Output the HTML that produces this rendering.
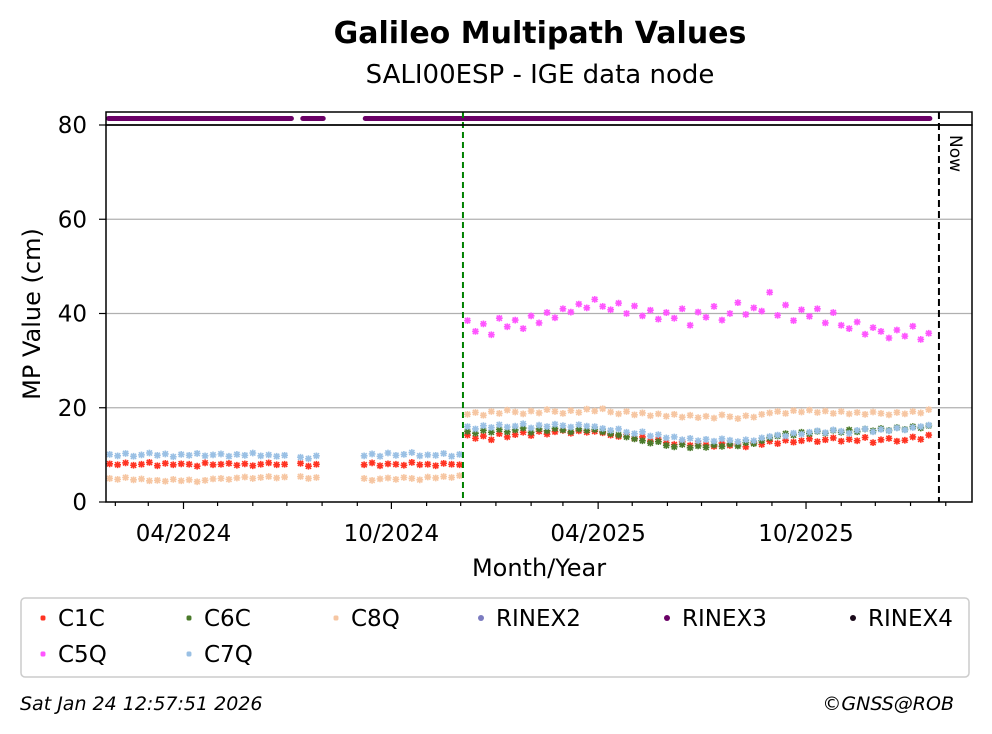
<!DOCTYPE html>
<html><head><meta charset="utf-8">
<style>
body{margin:0;background:#fff;}
svg{display:block;font-family:"DejaVu Sans","Liberation Sans",sans-serif;}
</style></head>
<body>
<svg id="chart" width="992" height="734" viewBox="0 0 992 734">
<text x="540" y="43" text-anchor="middle" font-size="30" font-weight="bold">Galileo Multipath Values</text>
<text x="540" y="83" text-anchor="middle" font-size="26">SALI00ESP - IGE data node</text>
<g id="grid"></g>
<g id="strip"></g>
<g id="marks"></g>
<rect x="106" y="112" width="866" height="13" fill="none" stroke="#000" stroke-width="1.5"/>
<rect x="106" y="125" width="866" height="377" fill="none" stroke="#000" stroke-width="1.5"/>
<g id="axes"></g>
<text transform="translate(40,314) rotate(-90)" text-anchor="middle" font-size="24">MP Value (cm)</text>
<text x="539" y="576" text-anchor="middle" font-size="24">Month/Year</text>
<rect x="21" y="598" width="948" height="79" rx="4" fill="#fff" stroke="#ccc" stroke-width="1.5"/>
<g id="legend"></g>
<text x="20" y="710" font-size="19" font-style="italic">Sat Jan 24 12:57:51 2026</text>
<text x="954" y="710" text-anchor="end" font-size="19" font-style="italic">©GNSS@ROB</text>
</svg>
<script>
// Data: weekly samples, day offset from 2024-04-01 = START + 7*i
const START = -65;
const C1C = [8.1,7.9,8.3,7.8,8.0,8.4,7.7,8.2,7.9,8.1,8.0,7.6,8.3,7.9,8.0,8.2,7.8,8.1,7.7,8.0,8.3,7.9,8.0,null,8.2,7.6,8.0,null,null,null,null,null,7.9,8.3,7.7,8.1,8.0,7.8,8.4,7.9,8.0,7.7,8.2,8.0,7.9,
14.2,13.5,14.0,13.2,14.5,13.8,14.3,14.8,14.1,15.0,14.4,14.9,15.2,14.6,15.1,14.8,
15.0,14.7,14.2,13.9,14.3,13.5,13.8,12.9,13.3,12.6,12.2,12.8,12.0,12.4,
12.1,11.8,12.5,12.0,12.3,11.7,12.6,12.2,12.9,12.4,13.1,12.7,13.0,
13.4,12.8,13.2,13.6,12.9,13.3,13.0,13.7,12.6,13.2,13.5,12.9,13.1,13.8,13.3,14.2];
const C7Q = [10.1,9.8,10.3,9.7,10.0,10.4,9.9,10.2,9.6,10.1,9.9,10.3,9.8,10.0,10.2,9.7,10.1,9.9,10.4,9.8,10.0,9.7,9.9,null,9.5,9.2,9.8,null,null,null,null,null,9.8,10.2,9.7,10.4,9.9,10.1,10.5,9.8,10.0,9.9,10.3,9.7,10.1,
16.0,15.5,16.2,15.8,16.4,15.9,16.1,16.6,15.7,16.3,16.0,16.5,16.2,15.9,16.4,16.1,
16.0,15.6,15.2,15.5,14.8,14.5,14.9,14.0,14.3,13.6,13.8,13.2,13.5,13.0,
13.3,12.9,13.4,13.1,12.8,13.2,13.0,13.6,13.9,14.2,14.0,14.6,14.4,
14.8,15.1,14.7,15.3,15.0,14.6,15.2,15.5,14.9,15.4,15.1,15.7,15.3,15.8,16.0,16.3];
const C8Q = [5.0,4.8,5.2,4.7,4.9,4.5,4.6,4.4,4.8,4.5,4.7,4.3,4.6,4.9,5.0,4.8,5.1,5.3,5.0,5.2,5.4,5.1,5.3,null,5.4,5.0,5.2,null,null,null,null,null,5.0,4.6,4.9,5.1,4.8,5.2,5.0,4.7,5.3,5.1,5.4,5.2,5.6,
18.6,19.0,18.4,19.2,18.8,19.5,19.1,18.7,19.3,18.9,19.6,19.2,18.8,19.4,19.0,19.7,
19.3,19.8,19.1,18.7,19.2,18.5,18.9,18.3,18.7,18.2,18.6,18.0,18.4,17.9,
18.2,17.8,18.5,18.1,17.7,18.3,18.0,18.6,18.9,19.2,18.8,19.4,19.1,
19.5,19.0,19.3,18.8,19.2,18.7,19.0,18.6,19.1,18.8,18.5,19.0,18.7,19.2,18.9,19.6];
const C6C = Array(45).fill(null).concat([15.0,14.6,15.2,14.8,15.4,14.9,15.3,15.7,14.8,15.5,15.1,15.6,15.3,14.9,15.5,15.2,
15.4,14.9,14.5,14.2,13.8,13.4,13.0,12.5,12.8,12.0,11.7,12.2,11.5,11.9,
11.6,12.1,11.8,12.3,11.9,12.6,12.4,13.0,13.6,14.0,14.5,14.2,14.8,
14.5,15.0,14.6,15.2,14.8,15.3,14.9,15.5,15.1,15.6,15.2,15.8,15.4,16.0,15.7,16.2]);
const C5Q = Array(45).fill(null).concat([38.5,36.2,37.8,35.5,39.0,37.2,38.6,36.8,39.5,38.0,40.2,39.1,41.0,40.3,42.0,41.2,
43.0,41.5,40.8,42.2,40.0,41.6,39.5,40.7,38.8,40.2,39.0,41.0,37.5,40.3,
39.2,41.5,38.6,40.0,42.3,39.8,41.2,40.5,44.5,39.6,41.8,38.5,40.8,
39.4,41.0,38.0,40.2,37.5,36.8,38.2,35.6,37.0,36.2,34.8,36.5,35.2,37.3,34.5,35.8]);
const RINEX3_RANGES = [[-66,95],[105,123],[160,657]];
const Y_TICKS = [0,20,40,60,80];
const X_TICK_LABELS = ["04/2024","10/2024","04/2025","10/2025"];
const X_TICK_DAYS = [0,183,365,548];
const CHANGE_DAY = 246;
const NOW_DAY = 665;

const NS="http://www.w3.org/2000/svg";
const x = d => 183.5 + d*1.136;
const y = v => 502 - v*(377/80);
function mk(tag, attrs, parent){const e=document.createElementNS(NS,tag);for(const k in attrs)e.setAttribute(k,attrs[k]);parent.appendChild(e);return e;}
const grid=document.getElementById('grid'), axes=document.getElementById('axes'), marks=document.getElementById('marks'), strip=document.getElementById('strip'), legend=document.getElementById('legend');

Y_TICKS.forEach(v=>{
  if(v>0&&v<80){const g=mk('line',{x1:106,x2:972,y1:y(v),y2:y(v),stroke:'#b0b0b0','stroke-width':1.2},grid);
  
  }
  const t=mk('line',{x1:99,x2:106,y1:y(v),y2:y(v),stroke:'#000','stroke-width':1.2},axes);
  
  
  const l=mk('text',{x:87,y:y(v)+8,'text-anchor':'end','font-size':23},axes);l.textContent=v;
  
  
});
const base=Date.UTC(2024,3,1);
for(let m=-2;m<=22;m++){
  const d=(Date.UTC(2024,3+m,1)-base)/86400000; const px=x(d);
  if(px<106||px>972)continue;
  const major = X_TICK_DAYS.some(td=>Math.abs(td-d)<2);
  const t=mk('line',{x1:px,x2:px,y1:502,y2:major?509:506,stroke:'#000','stroke-width':1.2},axes);
  
  
}
X_TICK_LABELS.forEach((s,i)=>{
  const l=mk('text',{x:x(X_TICK_DAYS[i]),y:541,'text-anchor':'middle','font-size':23},axes);l.textContent=s;
  
  
});
RINEX3_RANGES.forEach(r=>{
  const s=mk('line',{x1:x(r[0]),x2:x(r[1]),y1:118.5,y2:118.5,stroke:'#6a0066','stroke-width':5,'stroke-linecap':'round'},strip);
  
  
});
function cross(px,py,color,parent,sz){
  return mk('path',{d:`M${px-sz} ${py-sz}L${px+sz} ${py+sz}M${px-sz} ${py+sz}L${px+sz} ${py-sz}M${px} ${py-sz*1.3}L${px} ${py+sz*1.3}M${px-sz*1.3} ${py}L${px+sz*1.3} ${py}`,stroke:color,'stroke-width':1.6,fill:'none'},parent);
}
const series=[["C8Q",C8Q,"#f6c6a2"],["C5Q",C5Q,"#ff55ff"],["C1C",C1C,"#ff3322"],["C6C",C6C,"#4a7a2a"],["C7Q",C7Q,"#9ac0e4"]];
series.forEach(([name,arr,col])=>{
  const g=mk('g',{},marks);
  
  
  arr.forEach((v,i)=>{ if(v==null)return;
    const p=cross(x(START+7*i),y(v),col,g,2.6);
    
    
  });
});
const gl=mk('line',{x1:x(CHANGE_DAY),x2:x(CHANGE_DAY),y1:112,y2:502,stroke:'#008000','stroke-width':2,'stroke-dasharray':'6,4'},marks);


const nl=mk('line',{x1:x(NOW_DAY),x2:x(NOW_DAY),y1:112,y2:502,stroke:'#000','stroke-width':2,'stroke-dasharray':'7,4'},marks);


const nt=mk('text',{transform:`translate(${x(NOW_DAY)+11},135) rotate(90)`,'font-size':17},marks);nt.textContent='Now';


const LEG=[["C1C",40,618,"#ff3322","x"],["C6C",186,618,"#4a7a2a","x"],["C8Q",333,618,"#f6c6a2","x"],["RINEX2",478,618,"#7b7bc0","o"],["RINEX3",664,618,"#6a0066","o"],["RINEX4",850,618,"#1a0a1a","o"],["C5Q",40,654,"#ff55ff","x"],["C7Q",186,654,"#9ac0e4","x"]];
LEG.forEach(([n,lx,ly,c,t])=>{
  const g=mk('g',{},legend);
  
  
  if(t==='x')cross(lx+3,ly,c,g,2); else mk('circle',{cx:lx+3,cy:ly,r:3,fill:c},g);
  const tx=mk('text',{x:lx+18,y:ly+8,'font-size':23},g);tx.textContent=n;
});
</script>
</body></html>
